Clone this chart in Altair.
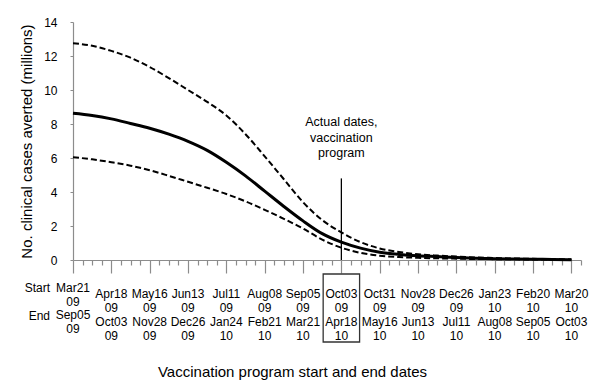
import altair as alt
import pandas as pd

# ---- data ----
weeks = list(range(0, 53, 2))
upper = [12.75, 12.6, 12.3, 11.9, 11.35, 10.7, 10.0, 9.3, 8.5, 7.4, 6.1, 4.75, 3.4, 2.35,
         1.62, 1.05, 0.68, 0.47, 0.34, 0.26, 0.2, 0.15, 0.12, 0.09, 0.07, 0.05, 0.03]
mean = [8.63, 8.5, 8.3, 8.03, 7.75, 7.4, 6.98, 6.45, 5.75, 4.95, 4.05, 3.15, 2.3, 1.55,
        1.05, 0.7, 0.46, 0.33, 0.25, 0.2, 0.15, 0.11, 0.08, 0.06, 0.05, 0.03, 0.02]
lower = [6.05, 5.92, 5.75, 5.55, 5.28, 4.95, 4.6, 4.25, 3.88, 3.45, 2.95, 2.42, 1.85, 1.2,
         0.72, 0.42, 0.25, 0.17, 0.13, 0.1, 0.08, 0.06, 0.05, 0.04, 0.03, 0.02, 0.01]

label_weeks = list(range(0, 53, 4))
start_dates = ["Mar21 09", "Apr18 09", "May16 09", "Jun13 09", "Jul11 09", "Aug08 09",
               "Sep05 09", "Oct03 09", "Oct31 09", "Nov28 09", "Dec26 09", "Jan23 10",
               "Feb20 10", "Mar20 10"]
end_dates = ["Sep05 09", "Oct03 09", "Nov28 09", "Dec26 09", "Jan24 10", "Feb21 10",
             "Mar21 10", "Apr18 10", "May16 10", "Jun13 10", "Jul11 10", "Aug08 10",
             "Sep05 10", "Oct03 10"]

actual_week = 28
actual_line_top = 4.8
annot_y = 8.1
annot_text = "Actual dates,\nvaccination\nprogram"

FONT = "Liberation Sans"

lines_df = pd.DataFrame({"week": weeks, "upper": upper, "mean": mean, "lower": lower})
labels_df = pd.DataFrame({
    "week": label_weeks,
    "txt": ["\n".join(s.split() + e.split()) for s, e in zip(start_dates, end_dates)],
})
labels_df["first"] = labels_df["week"] == label_weeks[0]
annot_df = pd.DataFrame({"week": [actual_week], "y0": [0.0], "y1": [actual_line_top],
                         "ty": [annot_y], "txt": [annot_text],
                         "bx1": [actual_week - 1.9], "bx2": [actual_week + 1.9]})

xscale = alt.Scale(domain=[0, 53], nice=False, zero=False)
xaxis = alt.Axis(
    values=list(range(0, 54)), labels=False, grid=False,
    domainColor="#8c8c8c", tickColor="#8c8c8c", domainWidth=1.2, tickWidth=1.2,
    tickSize={"condition": {"test": "datum.value % 4 === 0", "value": 13}, "value": 5},
    title="Vaccination program start and end dates",
    titleFontSize=15, titleFontWeight="normal", titleColor="black",
    titleX=219, titleY=116, titleBaseline="alphabetic", titleAnchor="middle",
)
yscale = alt.Scale(domain=[0, 14], nice=False)
yaxis = alt.Axis(
    values=list(range(0, 15, 2)), grid=False, tickSize=3,
    domainColor="#8c8c8c", tickColor="#8c8c8c", domainWidth=1.2,
    labelFontSize=12, labelColor="black", labelPadding=13,
    title="No. clinical cases averted (millions)",
    titleFontSize=15, titleFontWeight="normal", titleColor="black",
    titleX=-42, titleBaseline="alphabetic",
)

X = lambda f="week": alt.X(f"{f}:Q", scale=xscale, axis=xaxis)

base = alt.Chart(lines_df)
up_line = base.mark_line(color="black", strokeWidth=2, strokeDash=[6, 3],
                         interpolate="monotone").encode(
    x=X(), y=alt.Y("upper:Q", scale=yscale, axis=yaxis))
lo_line = base.mark_line(color="black", strokeWidth=2, strokeDash=[6, 3],
                         interpolate="monotone").encode(
    x=X(), y=alt.Y("lower:Q", scale=yscale, axis=yaxis))
mean_line = base.mark_line(color="black", strokeWidth=3,
                           interpolate="monotone").encode(
    x=X(), y=alt.Y("mean:Q", scale=yscale, axis=yaxis))

ann = alt.Chart(annot_df)
vrule = ann.mark_rule(color="black", strokeWidth=1.3).encode(
    x=X(), y=alt.Y("y0:Q", scale=yscale, axis=yaxis), y2="y1:Q")
vtext = ann.mark_text(lineBreak="\n", fontSize=12.5, lineHeight=15.5, font=FONT,
                      align="center", baseline="middle", color="black").encode(
    x=X(), y=alt.Y("ty:Q", scale=yscale, axis=yaxis), text="txt:N")
box = ann.mark_rect(fillOpacity=0, stroke="#333333", strokeWidth=1.3).encode(
    x=X("bx1"), x2="bx2:Q", y=alt.value(252), y2=alt.value(320))

lab = alt.Chart(labels_df)
tick_labels = lab.transform_filter("!datum.first").mark_text(
    lineBreak="\n", fontSize=12, lineHeight=14, font=FONT, align="center",
    baseline="middle", color="black").encode(x=X(), y=alt.value(272), text="txt:N")
first_label = lab.transform_filter("datum.first").mark_text(
    lineBreak="\n", fontSize=12, lineHeight=13.7, font=FONT, align="center",
    baseline="middle", color="black").encode(x=X(), y=alt.value(266), text="txt:N")

se_df = pd.DataFrame({"txt": ["Start", "End"], "row": [0, 1]})
start_lab = alt.Chart(se_df).transform_filter("datum.row == 0").mark_text(
    fontSize=12, font=FONT, align="right", baseline="middle", color="black").encode(
    x=alt.value(-23), y=alt.value(266), text="txt:N")
end_lab = alt.Chart(se_df).transform_filter("datum.row == 1").mark_text(
    fontSize=12, font=FONT, align="right", baseline="middle", color="black").encode(
    x=alt.value(-23), y=alt.value(294), text="txt:N")

chart = alt.layer(
    up_line, lo_line, mean_line, vrule, vtext, box,
    tick_labels, first_label, start_lab, end_lab
).properties(
    width=508, height=238,
    autosize=alt.AutoSizeParams(type="none"),
    padding={"left": 65, "top": 14, "right": 11, "bottom": 124},
).configure(font=FONT).configure_view(stroke=None).configure_axis(
    labelFont=FONT, titleFont=FONT)

chart.save("out.html", embed_options={"renderer": "svg", "actions": False})
